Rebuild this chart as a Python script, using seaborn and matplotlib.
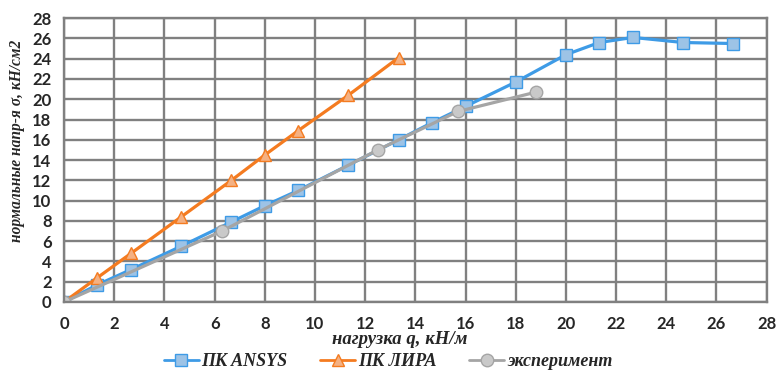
"""Normal stress vs load: ANSYS, LIRA and experiment."""

import matplotlib.pyplot as plt
import pandas as pd
import seaborn as sns

# load q, kN/m and normal stress, kN/cm2
ansys_q = [0, 1.33, 2.67, 4.67, 6.67, 8.0, 9.33, 11.33, 13.33, 14.67, 16.0, 18.0, 20.0, 21.33, 22.67, 24.67, 26.67]
ansys_s = [0, 1.7, 3.2, 5.5, 7.9, 9.5, 11.0, 13.5, 16.0, 17.7, 19.3, 21.7, 24.4, 25.6, 26.1, 25.6, 25.5]

lira_q = [0, 1.33, 2.67, 4.67, 6.67, 8.0, 9.33, 11.33, 13.33]
lira_s = [0, 2.4, 4.8, 8.4, 12.0, 14.5, 16.9, 20.4, 24.1]

exp_q = [0, 6.3, 12.5, 15.7, 18.8]
exp_s = [0, 7.0, 15.0, 18.8, 20.7]

x_ticks = list(range(0, 29, 2))
y_ticks = list(range(0, 29, 2))

series = [
    ("ПК ANSYS", ansys_q, ansys_s, "#3E9BE6", "#9DC3E6", "s", 9),
    ("ПК ЛИРА", lira_q, lira_s, "#F47B20", "#F4B183", "^", 9),
    ("эксперимент", exp_q, exp_s, "#A5A5A5", "#C9C9C9", "o", 9),
]

sns.set_style("white")
plt.rcParams["font.family"] = ["Lato", "DejaVu Sans"]

fig, ax = plt.subplots(figsize=(7.76, 3.71), dpi=100)
fig.subplots_adjust(left=0.0825, right=0.988, top=0.951, bottom=0.186)

for label, q, s, line_color, fill_color, marker, size in series:
    frame = pd.DataFrame({"q": q, "s": s})
    sns.lineplot(
        data=frame, x="q", y="s", ax=ax, sort=False, label=label,
        color=line_color, linewidth=2.3, marker=marker, markersize=size,
        markerfacecolor=fill_color, markeredgecolor=line_color, markeredgewidth=1.0,
    )

ax.set_xlim(0, 28)
ax.set_ylim(0, 28)
ax.set_xticks(x_ticks)
ax.set_yticks(y_ticks)
ax.grid(True, color="#808080", linewidth=1.7)
ax.set_axisbelow(True)
for spine in ax.spines.values():
    spine.set_color("#808080")
    spine.set_linewidth(1.7)
ax.tick_params(length=0, labelsize=12)
ax.tick_params(axis="x", pad=10)
ax.tick_params(axis="y", pad=9)
for tick in ax.get_xticklabels() + ax.get_yticklabels():
    tick.set_fontweight("bold")

ax.set_xlabel("")
ax.set_ylabel("")
fig.text(400 / 776, 1 - 340 / 371, "нагрузка q, кН/м", ha="center", va="center",
         family="Liberation Serif", fontsize=13.5, fontweight="bold", style="italic")
fig.text(17 / 776, 1 - 141 / 371, "нормальные напр-я σ, кН/см2", ha="center", va="center",
         rotation=90, family="Liberation Serif", fontsize=11.2, fontweight="bold", style="italic")

legend = ax.legend(
    loc="center", bbox_to_anchor=(0.5, 1 - 362 / 371), bbox_transform=fig.transFigure,
    ncol=3, frameon=False, handlelength=1.95, columnspacing=1.8, handletextpad=0.15,
    prop=dict(family="Liberation Serif", size=13, weight="bold", style="italic"),
)
for handle in legend.get_lines():
    handle.set_linewidth(2.0)

fig.savefig("out.png", dpi=100)
plt.close(fig)
